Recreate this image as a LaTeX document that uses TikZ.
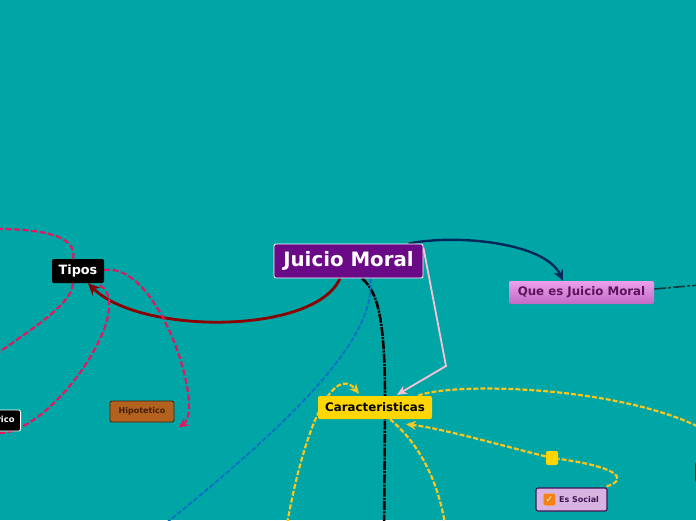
\documentclass[tikz,border=0pt]{standalone}
\usepackage{fontspec}
\setmainfont{DejaVu Sans}
\usepackage{tikz}
\usetikzlibrary{positioning,arrows.meta,calc}
\definecolor{verdeazul}{RGB}{0,166,166}
\definecolor{morado}{RGB}{106,10,134}
\definecolor{granate}{RGB}{140,0,0}
\definecolor{marino}{RGB}{0,40,90}
\definecolor{fucsia}{RGB}{228,22,96}
\definecolor{azulito}{RGB}{10,110,195}
\definecolor{amarillo}{RGB}{255,214,0}
\definecolor{amarillo2}{RGB}{252,198,30}
\definecolor{rosa}{RGB}{250,192,212}
\definecolor{marron}{RGB}{178,98,30}
\definecolor{marronosc}{RGB}{70,32,8}
\definecolor{lila}{RGB}{216,180,226}
\definecolor{lilaosc}{RGB}{62,20,80}
\definecolor{violeta}{RGB}{92,20,92}
\definecolor{malvaclaro}{RGB}{236,160,236}
\definecolor{malvaosc}{RGB}{194,106,198}
\definecolor{naranja}{RGB}{245,128,20}
\definecolor{oscuro}{RGB}{20,58,62}
\pgfdeclarelayer{fondo}
\pgfdeclarelayer{lineas}
\pgfsetlayers{fondo,lineas,main}

\begin{document}
\begin{tikzpicture}[
    x=1pt, y=-1pt,
    font=\bfseries,
    caja/.style={rectangle, rounded corners=2pt, inner sep=0pt, align=center},
    raiz/.style={caja, fill=morado, draw=white, line width=0.8pt,
      minimum width=149pt, minimum height=34pt, text=white,
      font=\fontsize{19.8}{22}\selectfont\bfseries},
    tipo/.style={caja, fill=black, text=white, minimum width=52pt,
      minimum height=24pt, font=\fontsize{12.8}{15}\selectfont\bfseries},
    hoja/.style={caja, line width=0.8pt, minimum height=21pt,
      font=\fontsize{8}{10}\selectfont\bfseries},
    rama/.style={caja, minimum height=23pt, font=\fontsize{11.8}{14}\selectfont\bfseries},
    granatel/.style={draw=granate, line width=2.8pt},
    fucsial/.style={draw=fucsia, line width=2.2pt, dash pattern=on 6pt off 2.5pt},
    amarillal/.style={draw=amarillo2, line width=2.2pt, dash pattern=on 5pt off 2pt},
    >={Stealth[length=11pt,width=10pt]}
  ]
    \useasboundingbox (0,0) rectangle (696,520);
    \begin{pgfonlayer}{fondo}
      \fill[verdeazul] (0,0) rectangle (696,520);
    \end{pgfonlayer}

    \node[raiz] (juicio) at (348.5,261) {Juicio Moral};
    \node[tipo] (tipos) at (78,271) {Tipos};
    \node[hoja, fill=marron, draw=marronosc, text=marronosc, minimum width=64pt]
      (hipo) at (142,411.5) {Hipotetico};
    \node[hoja, fill=black, draw=white, text=white, inner xsep=6pt, anchor=east,
      font=\fontsize{8.4}{10}\selectfont\bfseries] (cate) at (21,420.5) {Categorico};
    \node[rama, fill=amarillo, text=black, minimum width=114pt] (caract) at (375,407.5) {Caracteristicas};
    \node[rama, top color=malvaclaro, bottom color=malvaosc,
      text=violeta, minimum width=145pt, draw=none] (quees) at (581.5,292.5) {Que es Juicio Moral};
    \node[hoja, fill=lila, draw=lilaosc, text=lilaosc, minimum width=71pt, minimum height=23pt,
      line width=1.1pt] (esocial) at (571.5,499.5) {\hspace{15pt}Es Social};
    \node[caja, fill=naranja, draw=orange!60, minimum size=12pt, text=white,
      font=\fontsize{9}{9}\selectfont] (chk) at ([xshift=14pt]esocial.west) {✓};
    \node[caja, fill=amarillo, minimum width=12pt, minimum height=14pt] (cuadro) at (552,458) {};
    \node[caja, fill=oscuro, minimum width=30pt, minimum height=20pt, anchor=west] (otro) at (695,472) {};

    \coordinate (codo) at (446,366);
    \coordinate (abajo) at (384,540);
    \coordinate (abajoazul) at (160,528);
    \coordinate (arribaizq) at (-15,229);
    \coordinate (medioizq) at (-15,362);
    \coordinate (abajoA) at (286,530);
    \coordinate (abajoB) at (446,530);
    \coordinate (derechaA) at (705,430);
    \coordinate (derechaB) at (700,285);

    \begin{pgfonlayer}{lineas}
      \draw[granatel, ->, >={Stealth[length=12pt,width=11pt]}]
        ([xshift=-8.5pt]juicio.south) .. controls (315,335) and (140,335) .. ([xshift=10pt]tipos.south);
      \draw[marino, line width=2.4pt, ->]
        ([xshift=60pt]juicio.north) .. controls (455,234) and (545,242) .. ([xshift=-18.5pt]quees.north);
      \draw[rosa, line width=1.8pt, ->, >={Stealth[length=10pt,width=9pt]}]
        ([yshift=-4pt]juicio.north east) -- (codo) -- ([xshift=22pt,yshift=1pt]caract.north);
      \draw[black, line width=2.6pt, dash pattern=on 9pt off 1.2pt on 2pt off 1.2pt]
        ([xshift=13.5pt]juicio.south) .. controls (378,292) and (385,320) .. (385,400) -- (abajo);
      \draw[azulito, line width=1.8pt, dash pattern=on 5pt off 2pt]
        ([xshift=22pt]juicio.south) .. controls (375,330) and (320,400) .. (abajoazul);
      \draw[fucsial, ->, >={Stealth[length=10pt,width=9pt]}]
        ([yshift=1pt]tipos.east) .. controls (160,262) and (205,410) .. ([xshift=4pt,yshift=-5pt]hipo.south east);
      \draw[fucsial]
        ([xshift=22pt,yshift=-2pt]tipos.south) .. controls (140,310) and (40,450) .. (cate.south);
      \draw[fucsial]
        ([xshift=-5pt]tipos.north) .. controls (78,235) and (40,228) .. (arribaizq);
      \draw[fucsial]
        ([xshift=-5pt]tipos.south) .. controls (72,305) and (30,330) .. (medioizq);
      \draw[amarillal, ->, >={Stealth[length=10pt,width=9pt]}]
        (abajoA) .. controls (305,420) and (335,365) .. ([xshift=-16pt,yshift=2pt]caract.north);
      \draw[amarillal]
        ([xshift=-1pt,yshift=1pt]esocial.north east) .. controls (632,478) and (612,466) .. (cuadro);
      \draw[amarillal, ->, >={Stealth[length=10pt,width=9pt]}]
        (cuadro) .. controls (500,445) and (440,428) .. ([xshift=31pt,yshift=-5pt]caract.south);
      \draw[amarillal]
        ([xshift=43pt]caract.north) .. controls (450,382) and (620,385) .. (derechaA);
      \draw[amarillal]
        ([xshift=15pt]caract.south) .. controls (415,440) and (438,475) .. (abajoB);
      \draw[oscuro, line width=1.6pt, dash pattern=on 12pt off 2pt on 3pt off 2pt]
        ([yshift=3.5pt]quees.east) -- (derechaB);
    \end{pgfonlayer}
  \end{tikzpicture}
\end{document}
